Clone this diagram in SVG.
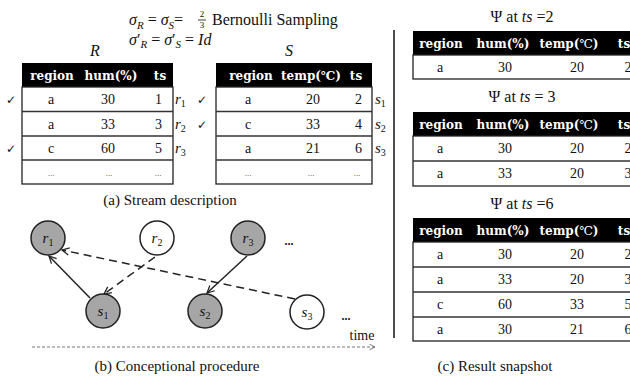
<svg xmlns="http://www.w3.org/2000/svg" width="630" height="377" viewBox="0 0 630 377">
<style>
text{font-family:"Liberation Serif","DejaVu Serif",serif;fill:#111}
.m{font-style:italic}
.h{font-family:"DejaVu Serif",serif;font-weight:bold;font-size:12px;fill:#fff;text-anchor:middle}
.v{font-size:14px}
.c{text-anchor:middle}
.e{text-anchor:end}
.dots{font-size:9px;fill:#444;text-anchor:middle}
.hd{fill:#000}
.body{fill:#fff;stroke:#222;stroke-width:1.3}
.rl{stroke:#333;stroke-width:1.3}
.chk{font-family:"DejaVu Sans",sans-serif;font-size:12px}
.cap{font-size:15px;text-anchor:middle}
.g{fill:#a6a6a6;stroke:#222;stroke-width:1.5}
.w{fill:#fff;stroke:#222;stroke-width:1.5}
.nl{font-size:15px;text-anchor:middle}
.edge{fill:none;stroke:#222;stroke-width:1.5}
.dash{stroke-dasharray:8,5}
.tl{fill:none;stroke:#666;stroke-width:0.9;stroke-dasharray:3,2}
</style>
<defs>
<marker id="arr" viewBox="0 0 10 10" refX="9" refY="5" markerWidth="9" markerHeight="9" orient="auto" markerUnits="userSpaceOnUse"><path d="M1,1 L9,5 L1,9" fill="none" stroke="#222" stroke-width="1.4"/></marker>
<marker id="arr2" viewBox="0 0 10 10" refX="9" refY="5" markerWidth="7" markerHeight="7" orient="auto" markerUnits="userSpaceOnUse"><path d="M1,1 L9,5 L1,9" fill="none" stroke="#666" stroke-width="1.2"/></marker>
</defs>

<!-- formulas -->
<g id="formula">
<text x="129" y="25" font-size="16"><tspan class="m">σ</tspan><tspan class="m" font-size="11" dy="4">R</tspan><tspan dy="-4"> = </tspan><tspan class="m">σ</tspan><tspan class="m" font-size="11" dy="4">S</tspan><tspan dy="-4">=</tspan></text>
<text x="202" y="17" font-size="9" class="c">2</text>
<line x1="198" y1="20" x2="206" y2="20" stroke="#111" stroke-width="0.8"/>
<text x="202" y="28" font-size="9" class="c">3</text>
<text x="212" y="25" font-size="16">Bernoulli Sampling</text>
<text x="129" y="45" font-size="16"><tspan class="m">σ</tspan><tspan>′</tspan><tspan class="m" font-size="11" dy="3">R</tspan><tspan dy="-3"> = </tspan><tspan class="m">σ</tspan><tspan>′</tspan><tspan class="m" font-size="11" dy="3">S</tspan><tspan dy="-3"> = </tspan><tspan class="m">Id</tspan></text>
<text x="95" y="56" font-size="16" class="m c">R</text>
<text x="289" y="56" font-size="16" class="m c">S</text>
</g>

<!-- table R -->
<g id="tableR">
<rect class="hd" x="22" y="63" width="151" height="24"/>
<text class="h" x="52" y="80">region</text>
<text class="h" x="111" y="80">hum(%)</text>
<text class="h" x="160" y="80">ts</text>
<rect class="body" x="22" y="87" width="151" height="97"/>
<line class="rl" x1="22" y1="111.5" x2="173" y2="111.5"/>
<line class="rl" x1="22" y1="136" x2="173" y2="136"/>
<line class="rl" x1="22" y1="160" x2="173" y2="160"/>
<text class="v c" x="51" y="104">a</text><text class="v e" x="115" y="104">30</text><text class="v e" x="162" y="104">1</text>
<text class="v c" x="51" y="128.5">a</text><text class="v e" x="115" y="128.5">33</text><text class="v e" x="162" y="128.5">3</text>
<text class="v c" x="51" y="153">c</text><text class="v e" x="115" y="153">60</text><text class="v e" x="162" y="153">5</text>
<text class="dots" x="51" y="176">...</text><text class="dots" x="109" y="176">...</text><text class="dots" x="158" y="176">...</text>
<text class="chk" x="6" y="104">✓</text>
<text class="chk" x="6" y="153">✓</text>
<text x="175" y="104" font-size="15"><tspan class="m">r</tspan><tspan font-size="10" dy="3">1</tspan></text>
<text x="175" y="128.5" font-size="15"><tspan class="m">r</tspan><tspan font-size="10" dy="3">2</tspan></text>
<text x="175" y="153" font-size="15"><tspan class="m">r</tspan><tspan font-size="10" dy="3">3</tspan></text>
</g>

<!-- table S -->
<g id="tableS">
<rect class="hd" x="216" y="63" width="156" height="24"/>
<text class="h" x="251" y="80">region</text>
<text class="h" x="311" y="80">temp(℃)</text>
<text class="h" x="356" y="80">ts</text>
<rect class="body" x="216" y="87" width="156" height="97"/>
<line class="rl" x1="216" y1="111.5" x2="372" y2="111.5"/>
<line class="rl" x1="216" y1="136" x2="372" y2="136"/>
<line class="rl" x1="216" y1="160" x2="372" y2="160"/>
<text class="v c" x="248" y="104">a</text><text class="v e" x="320" y="104">20</text><text class="v e" x="362" y="104">2</text>
<text class="v c" x="248" y="128.5">c</text><text class="v e" x="320" y="128.5">33</text><text class="v e" x="362" y="128.5">4</text>
<text class="v c" x="248" y="153">a</text><text class="v e" x="320" y="153">21</text><text class="v e" x="362" y="153">6</text>
<text class="dots" x="248" y="176">...</text><text class="dots" x="311" y="176">...</text><text class="dots" x="357" y="176">...</text>
<text class="chk" x="197" y="104">✓</text>
<text class="chk" x="197" y="128.5">✓</text>
<text x="375" y="104" font-size="15"><tspan class="m">s</tspan><tspan font-size="10" dy="3">1</tspan></text>
<text x="375" y="128.5" font-size="15"><tspan class="m">s</tspan><tspan font-size="10" dy="3">2</tspan></text>
<text x="375" y="153" font-size="15"><tspan class="m">s</tspan><tspan font-size="10" dy="3">3</tspan></text>
</g>

<text class="cap" x="170" y="205">(a) Stream description</text>

<!-- divider -->
<line x1="394" y1="30" x2="394" y2="338" stroke="#111" stroke-width="1.5"/>

<!-- connectors -->
<g id="connectors">
<line class="edge" x1="90" y1="298" x2="49" y2="256" marker-end="url(#arr)"/>
<line class="edge dash" x1="155" y1="257" x2="104" y2="294" marker-end="url(#arr)"/>
<line class="edge dash" x1="295" y1="299" x2="62" y2="250" marker-end="url(#arr)"/>
<line class="edge" x1="247" y1="256" x2="207" y2="293" marker-end="url(#arr)"/>
<line class="tl" x1="32" y1="347" x2="375" y2="347" marker-end="url(#arr2)"/>
</g>

<!-- nodes -->
<g id="node-r1"><circle class="g" cx="48" cy="238" r="17"/><text class="nl" x="48" y="243"><tspan class="m">r</tspan><tspan font-size="10" dy="3">1</tspan></text></g>
<g id="node-r2"><circle class="w" cx="157" cy="238" r="17"/><text class="nl" x="157" y="243"><tspan class="m">r</tspan><tspan font-size="10" dy="3">2</tspan></text></g>
<g id="node-r3"><circle class="g" cx="248" cy="238" r="17"/><text class="nl" x="248" y="243"><tspan class="m">r</tspan><tspan font-size="10" dy="3">3</tspan></text></g>
<g id="node-s1"><circle class="g" cx="103" cy="311" r="17"/><text class="nl" x="103" y="316"><tspan class="m">s</tspan><tspan font-size="10" dy="3">1</tspan></text></g>
<g id="node-s2"><circle class="g" cx="205" cy="311" r="17"/><text class="nl" x="205" y="316"><tspan class="m">s</tspan><tspan font-size="10" dy="3">2</tspan></text></g>
<g id="node-s3"><circle class="w" cx="307" cy="312" r="17"/><text class="nl" x="307" y="317"><tspan class="m">s</tspan><tspan font-size="10" dy="3">3</tspan></text></g>
<text x="289" y="245" font-size="12" font-weight="bold" class="c">...</text>
<text x="346" y="320" font-size="12" font-weight="bold" class="c">...</text>
<text x="362" y="340" font-size="14" class="c">time</text>
<text class="cap" x="177" y="371">(b) Conceptional procedure</text>

<!-- panel c -->
<g id="result1">
<text x="522" y="22" font-size="16" class="c">Ψ at <tspan class="m">ts</tspan> =2</text>
<rect class="hd" x="413" y="31" width="220" height="24"/>
<text class="h" x="441" y="48">region</text>
<text class="h" x="503" y="48">hum(%)</text>
<text class="h" x="569" y="48">temp(<tspan font-weight="normal">℃</tspan>)</text>
<text class="h" x="624" y="48">ts</text>
<rect class="body" x="413" y="55" width="230" height="24"/>
<text class="v c" x="440" y="72">a</text><text class="v c" x="505" y="72">30</text><text class="v c" x="577" y="72">20</text><text class="v c" x="628" y="72">2</text>
</g>
<g id="result2">
<text x="522" y="102" font-size="16" class="c">Ψ at <tspan class="m">ts</tspan> = 3</text>
<rect class="hd" x="413" y="112" width="220" height="24"/>
<text class="h" x="441" y="129">region</text>
<text class="h" x="503" y="129">hum(%)</text>
<text class="h" x="569" y="129">temp(<tspan font-weight="normal">℃</tspan>)</text>
<text class="h" x="624" y="129">ts</text>
<rect class="body" x="413" y="136" width="230" height="50"/>
<line class="rl" x1="413" y1="161" x2="630" y2="161"/>
<text class="v c" x="440" y="153">a</text><text class="v c" x="505" y="153">30</text><text class="v c" x="577" y="153">20</text><text class="v c" x="628" y="153">2</text>
<text class="v c" x="440" y="178">a</text><text class="v c" x="505" y="178">33</text><text class="v c" x="577" y="178">20</text><text class="v c" x="628" y="178">3</text>
</g>
<g id="result3">
<text x="522" y="209" font-size="16" class="c">Ψ at <tspan class="m">ts</tspan> =6</text>
<rect class="hd" x="413" y="218" width="220" height="24"/>
<text class="h" x="441" y="235">region</text>
<text class="h" x="503" y="235">hum(%)</text>
<text class="h" x="569" y="235">temp(<tspan font-weight="normal">℃</tspan>)</text>
<text class="h" x="624" y="235">ts</text>
<rect class="body" x="413" y="242" width="230" height="99"/>
<line class="rl" x1="413" y1="267" x2="630" y2="267"/>
<line class="rl" x1="413" y1="292" x2="630" y2="292"/>
<line class="rl" x1="413" y1="317" x2="630" y2="317"/>
<text class="v c" x="440" y="259">a</text><text class="v c" x="505" y="259">30</text><text class="v c" x="577" y="259">20</text><text class="v c" x="628" y="259">2</text>
<text class="v c" x="440" y="284">a</text><text class="v c" x="505" y="284">33</text><text class="v c" x="577" y="284">20</text><text class="v c" x="628" y="284">3</text>
<text class="v c" x="440" y="309">c</text><text class="v c" x="505" y="309">60</text><text class="v c" x="577" y="309">33</text><text class="v c" x="628" y="309">5</text>
<text class="v c" x="440" y="334">a</text><text class="v c" x="505" y="334">30</text><text class="v c" x="577" y="334">21</text><text class="v c" x="628" y="334">6</text>
</g>
<text class="cap" x="495" y="371">(c) Result snapshot</text>
</svg>
